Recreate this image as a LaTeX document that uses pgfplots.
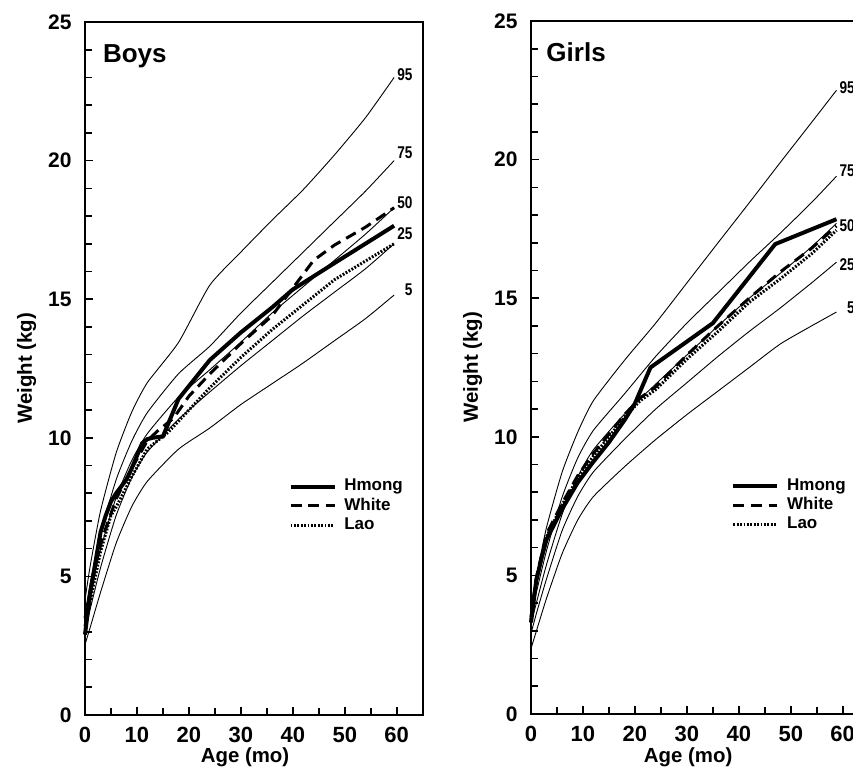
\documentclass[border=0pt]{standalone}
\usepackage{fontspec}
\setmainfont{Liberation Sans}
\usepackage{graphicx}
\usepackage{pgfplots}
\usepackage{pgfplotstable}
\pgfplotsset{compat=1.18}

% Reference percentiles, boys
\pgfplotstableread{
x p5 p25 p50 p75 p95
0 2.54 3.00 3.27 3.64 4.15
1 3.16 3.82 4.29 4.75 5.38
3 4.43 5.32 5.98 6.56 7.37
6 6.20 7.20 7.85 8.49 9.46
9 7.52 8.56 9.18 9.88 10.93
12 8.43 9.49 10.15 10.91 11.99
18 9.59 10.67 11.47 12.31 13.44
24 10.35 11.65 12.45 13.30 15.50
30 11.20 12.60 13.45 14.50 16.70
36 11.95 13.50 14.50 15.60 17.85
42 12.70 14.40 15.45 16.70 18.95
48 13.50 15.25 16.40 17.80 20.20
54 14.30 16.10 17.35 18.90 21.55
59.5 15.15 17.00 18.30 20.00 23.00
}\boyspct

% Reference percentiles, girls
\pgfplotstableread{
x p5 p25 p50 p75 p95
0 2.36 2.90 3.23 3.52 3.81
1 2.97 3.60 3.98 4.36 4.92
3 4.18 4.88 5.40 5.90 6.74
6 5.79 6.62 7.21 7.83 8.73
9 7.00 7.85 8.56 9.24 10.17
12 7.84 8.73 9.53 10.23 11.30
18 8.92 9.91 10.82 11.55 12.76
24 9.90 11.00 11.90 12.90 14.10
30 10.80 11.95 12.95 14.10 15.55
36 11.65 12.90 14.00 15.20 17.00
42 12.50 13.80 15.00 16.30 18.44
48 13.35 14.65 15.90 17.35 19.90
54 14.00 15.55 16.85 18.45 21.34
58.8 14.50 16.30 17.70 19.40 22.50
}\girlspct

\pgfplotstableread{
x y
0 2.9
1 4.4
2 5.5
3 6.6
4 7.2
5 7.7
6 8.0
8 8.5
9 8.9
11 9.8
12 9.95
13 10.0
15 10.05
16 10.5
18 11.4
21 12.1
24 12.8
30 13.8
36 14.7
40 15.35
48 16.3
59.5 17.65
}\boysHmong

\pgfplotstableread{
x y
0 3.5
1 4.4
2 5.4
3 6.2
6 7.8
9 8.9
12 9.9
14 10.25
17 10.7
20 11.5
24 12.3
30 13.4
36 14.4
40 15.4
44 16.4
48 16.95
54 17.6
59.5 18.3
}\boysWhite

\pgfplotstableread{
x y
0 3.2
1 4.1
3 5.9
5 7.2
6 7.5
9 8.6
12 9.6
16 10.2
20 11.0
24 11.8
30 12.9
36 13.9
48 15.7
59.5 17.0
}\boysLao

\pgfplotstableread{
x y
0 3.3
1 4.8
2 5.6
3 6.3
6 7.4
9 8.35
12 9.1
15 9.8
18 10.6
20 11.2
23 12.5
35 14.1
47 16.95
58.8 17.85
}\girlsHmong

\pgfplotstableread{
x y
0 3.5
1 4.9
3 6.5
6 7.6
9 8.6
12 9.4
15 10.1
18 10.8
21 11.4
24 11.8
30 12.95
36 14.0
42 15.0
48 15.95
54 16.8
58.8 17.6
}\girlsWhite

\pgfplotstableread{
x y
0 3.4
1 4.8
3 6.4
6 7.55
9 8.5
12 9.3
15 10.0
18 10.7
21 11.3
24 11.7
30 12.8
36 13.8
42 14.85
48 15.7
54 16.6
58.8 17.45
}\girlsLao

\newcommand{\tickfont}{\bfseries\fontsize{10.5}{12}\selectfont}
\newcommand{\xtickfont}{\bfseries\fontsize{11}{12}\selectfont}
\newcommand{\labfont}{\bfseries\fontsize{10.2}{12}\selectfont}
\newcommand{\pct}[1]{\scalebox{0.8}[1]{\bfseries\fontsize{8.5}{9}\selectfont #1}}

\pgfplotsset{
  growth/.style={
    scale only axis, width=168.85pt, height=346.5pt,
    xmin=0, xmax=65, ymin=0, ymax=25,
    xtick={0,10,...,60}, minor xtick={5,15,25,35,45,55},
    ytick={0,5,...,25}, minor y tick num=4,
    xtick pos=left, ytick pos=left, tick align=inside,
    major tick length=4pt, minor tick length=3.5pt,
    every tick/.style={black, line width=0.8pt},
    axis line style={line width=1pt},
    /pgf/number format/assume math mode=true,
    yticklabel style={font=\tickfont, inner sep=0pt, xshift=-6.5pt},
    xticklabel style={font=\xtickfont, inner sep=0pt, yshift=-6pt},
    clip=false,
    legend cell align=left,
    legend style={draw=none, fill=none, inner sep=0pt, row sep=0.6pt,
      column sep=3.5pt, font=\bfseries\fontsize{8.5}{9}\selectfont,
      nodes={inner sep=0.4pt, text height=6.2pt, text depth=2pt}},
    legend image code/.code={\draw[##1] (0pt,0pt) -- (22pt,0pt);},
  },
  pctline/.style={black, line width=0.45pt, smooth, tension=0.35, forget plot},
  hmong/.style={black, line width=2pt},
  white/.style={black, line width=1.5pt, dash pattern=on 5.5pt off 3.3pt},
  lao/.style={black, line width=1.5pt, dash pattern=on 0.9pt off 0.8pt},
}

\begin{document}
\begin{tikzpicture}
\useasboundingbox (0,0) rectangle (426.5pt,385pt);

% ---------------- Boys ----------------
\begin{axis}[growth, at={(42.5pt,27.5pt)}, anchor=south west,
  legend style={at={(0.6015,0.343)}, anchor=north west}]
  \addplot[pctline] table[x=x, y=p5]  {\boyspct};
  \addplot[pctline] table[x=x, y=p25] {\boyspct};
  \addplot[pctline] table[x=x, y=p50] {\boyspct};
  \addplot[pctline] table[x=x, y=p75] {\boyspct};
  \addplot[pctline] table[x=x, y=p95] {\boyspct};
  \addplot[hmong] table {\boysHmong};
  \addplot[white] table {\boysWhite};
  \addplot[lao] table {\boysLao};
  \legend{Hmong, White, Lao}
  \node[anchor=base west, inner sep=0pt, font=\bfseries\fontsize{13}{14}\selectfont] at (axis cs:3.4,23.55) {Boys};
  \node[anchor=east, inner sep=0pt] at (axis cs:63.1,23.1) {\pct{95}};
  \node[anchor=east, inner sep=0pt] at (axis cs:63.1,20.3) {\pct{75}};
  \node[anchor=east, inner sep=0pt] at (axis cs:63.1,18.5) {\pct{50}};
  \node[anchor=east, inner sep=0pt] at (axis cs:63.1,17.35) {\pct{25}};
  \node[anchor=east, inner sep=0pt] at (axis cs:63.1,15.33) {\pct{5}};
  \node[anchor=base, inner sep=0pt, font=\labfont] at (axis cs:30.8,-1.72) {Age (mo)};
  \node[anchor=base, rotate=90, inner sep=0pt, font=\labfont] at (rel axis cs:-0.157,0.5) {Weight (kg)};
\end{axis}

% ---------------- Girls ----------------
\begin{axis}[growth, at={(265.5pt,28pt)}, anchor=south west,
  legend style={at={(0.592,0.342)}, anchor=north west}]
  \addplot[pctline] table[x=x, y=p5]  {\girlspct};
  \addplot[pctline] table[x=x, y=p25] {\girlspct};
  \addplot[pctline] table[x=x, y=p50] {\girlspct};
  \addplot[pctline] table[x=x, y=p75] {\girlspct};
  \addplot[pctline] table[x=x, y=p95] {\girlspct};
  \addplot[hmong] table {\girlsHmong};
  \addplot[white] table {\girlsWhite};
  \addplot[lao] table {\girlsLao};
  \legend{Hmong, White, Lao}
  \node[anchor=base west, inner sep=0pt, font=\bfseries\fontsize{13}{14}\selectfont] at (axis cs:2.9,23.54) {Girls};
  \node[anchor=east, inner sep=0pt] at (axis cs:62.4,22.6) {\pct{95}};
  \node[anchor=east, inner sep=0pt] at (axis cs:62.4,19.6) {\pct{75}};
  \node[anchor=east, inner sep=0pt] at (axis cs:62.4,17.6) {\pct{50}};
  \node[anchor=east, inner sep=0pt] at (axis cs:62.4,16.2) {\pct{25}};
  \node[anchor=east, inner sep=0pt] at (axis cs:62.4,14.65) {\pct{5}};
  \node[anchor=base, inner sep=0pt, font=\labfont] at (axis cs:30.25,-1.76) {Age (mo)};
  \node[anchor=base, rotate=90, inner sep=0pt, font=\labfont] at (rel axis cs:-0.157,0.5) {Weight (kg)};
\end{axis}
\end{tikzpicture}
\end{document}
